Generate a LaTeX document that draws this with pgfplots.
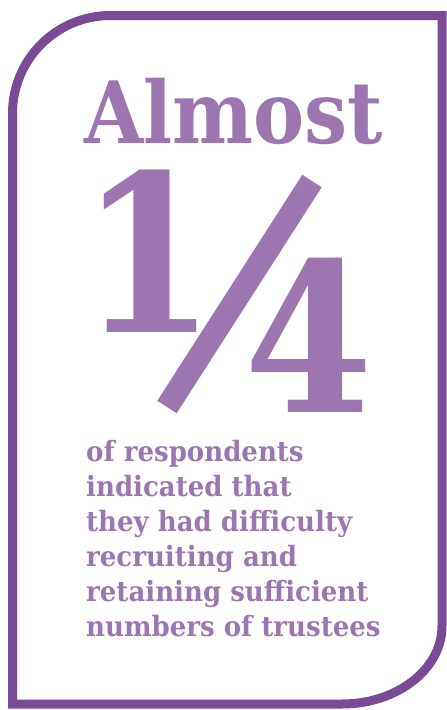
\documentclass[border=0pt]{standalone}
\usepackage{pgfplots}
\pgfplotsset{compat=1.18}
\usepackage{fontspec}
\setmainfont{DejaVu Serif}
\newfontfamily\bigslab{DejaVu Serif}[FakeStretch=0.89]
\newfontfamily\bodyslab{DejaVu Serif}[FakeStretch=0.93]
\definecolor{framepurple}{RGB}{123,74,151}
\definecolor{textpurple}{RGB}{156,118,176}
\tikzset{
  lbl/.style={text=textpurple, anchor=base west, inner sep=0pt},
  body/.style={lbl, font=\bodyslab\bfseries\fontsize{28}{35}\selectfont},
}

\begin{document}
\begin{tikzpicture}
\begin{axis}[
    width=447pt, height=710pt,
    scale only axis,
    xmin=0, xmax=447,
    ymin=0, ymax=710,
    y dir=reverse,
    hide axis,
    clip=false,
]
% page extent
\addplot[draw=none] coordinates {(0,0) (447,710)};

% frame: rounded top-left and bottom-right corners
\draw[framepurple, line width=9pt]
    (axis cs:12.5,704) -- (axis cs:12.5,113.5)
    arc[start angle=180, end angle=90, radius=98pt]
    -- (axis cs:442,15.5) -- (axis cs:442,626)
    arc[start angle=0, end angle=-90, x radius=100pt, y radius=78pt]
    -- cycle;

% headline
\node[lbl, font=\bigslab\bfseries\fontsize{86}{86}\selectfont] at (axis cs:84,143) {Almost};

% the fraction 1/4
\node[lbl, font=\bigslab\bfseries\fontsize{219}{219}\selectfont] at (axis cs:80,332) {1};
\node[lbl, font=\bigslab\bfseries\fontsize{208}{208}\selectfont] at (axis cs:244,412) {4};
\addplot[textpurple, line width=23pt, line cap=butt] coordinates {(312,181) (167,407)};

% body text, one node per line
\node[body] at (axis cs:86,461) {of respondents};
\node[body] at (axis cs:86,496) {indicated that};
\node[body] at (axis cs:86,531) {they had difficulty};
\node[body] at (axis cs:86,566) {recruiting and};
\node[body] at (axis cs:86,601) {retaining sufficient};
\node[body] at (axis cs:86,636) {numbers of trustees};
\end{axis}
\end{tikzpicture}
\end{document}
